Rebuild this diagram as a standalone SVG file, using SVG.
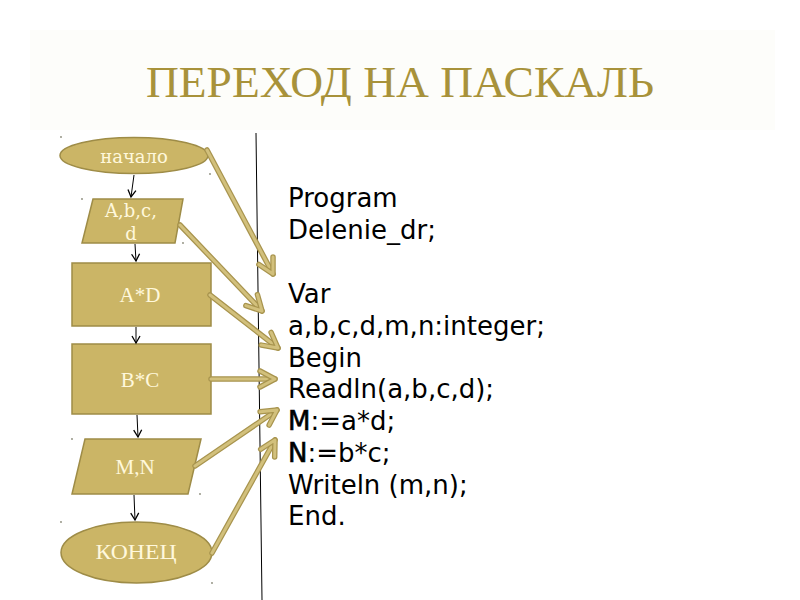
<svg xmlns="http://www.w3.org/2000/svg" width="800" height="600" viewBox="0 0 800 600">
<defs>
<style>
.shape{fill:#CBB566;stroke:#9E8C47;stroke-width:1.5}
.lbl{fill:#FFF8DC;font-family:"Liberation Serif","Times New Roman",serif;font-size:21px;text-anchor:middle}
.lbl2{fill:#FFF8DC;font-family:"DejaVu Serif",serif;font-size:18px;text-anchor:middle}
.flow{stroke:#000;stroke-width:1;fill:none;marker-end:url(#vhead)}
.goldOut{stroke:#A8944E;stroke-width:5.5;fill:none;stroke-linecap:round}
.goldIn{stroke:#D2C07C;stroke-width:3;fill:none;stroke-linecap:round;marker-end:url(#ghead)}
.code{font-family:"DejaVu Sans","Noto Sans",sans-serif;font-size:26px;fill:#000}
.semi{stroke:#000;stroke-width:0.6}
.dot{fill:#8a8a7a}
</style>
<marker id="vhead" markerUnits="userSpaceOnUse" markerWidth="12" markerHeight="12" refX="0" refY="0" orient="auto" overflow="visible">
<path d="M-7,-4 L0,0 L-7,4" fill="none" stroke="#000" stroke-width="1.3"/>
</marker>
<marker id="ghead" markerUnits="userSpaceOnUse" markerWidth="30" markerHeight="30" refX="0" refY="0" orient="auto" overflow="visible">
<path d="M-15,-8 L0,0 L-15,8" fill="none" stroke="#A8944E" stroke-width="5.5" stroke-linecap="round" stroke-linejoin="round"/>
<path d="M-15,-8 L0,0 L-15,8" fill="none" stroke="#D2C07C" stroke-width="3" stroke-linecap="round" stroke-linejoin="round"/>
</marker>
</defs>
<rect width="800" height="600" fill="#fff"/>
<rect x="30" y="30" width="745" height="100" fill="#FDFDFA"/>
<text x="400" y="97" font-family="Liberation Serif,'Times New Roman',serif" font-size="44" fill="#A8923A" text-anchor="middle" textLength="508" lengthAdjust="spacingAndGlyphs">ПЕРЕХОД НА ПАСКАЛЬ</text>

<line x1="256" y1="133" x2="262" y2="600" stroke="#000" stroke-width="1"/>

<g id="start">
<ellipse class="shape" cx="134" cy="155.5" rx="74" ry="18"/>
<text class="lbl2" x="134" y="163" font-size="19">начало</text>
</g>
<g id="input">
<polygon class="shape" points="93,199 183,199 175,243 82,243"/>
<text class="lbl2" x="131" y="217">A,b,c,</text>
<text class="lbl2" x="131" y="240">d</text>
</g>
<g id="ad">
<rect class="shape" x="72" y="263" width="139" height="63"/>
<text class="lbl" x="140" y="302">A*D</text>
</g>
<g id="bc">
<rect class="shape" x="72" y="344" width="139" height="70"/>
<text class="lbl" x="140" y="387">B*C</text>
</g>
<g id="output">
<polygon class="shape" points="85,439 201,439 188,494 72,494"/>
<text class="lbl" x="135" y="474">M,N</text>
</g>
<g id="end">
<ellipse class="shape" cx="136.5" cy="552.5" rx="75.5" ry="30.5"/>
<text class="lbl" x="136" y="559" textLength="81" lengthAdjust="spacingAndGlyphs">КОНЕЦ</text>
</g>

<g id="connectors">
<line class="flow" x1="134" y1="175" x2="131" y2="197"/>
<line class="flow" x1="135" y1="244" x2="136" y2="261"/>
<line class="flow" x1="136" y1="327" x2="136" y2="343"/>
<line class="flow" x1="137" y1="415" x2="138" y2="437"/>
<line class="flow" x1="134" y1="495" x2="135" y2="520"/>

<line class="goldOut" x1="207" y1="150" x2="273" y2="274"/>
<line class="goldIn" x1="207" y1="150" x2="273" y2="274"/>
<line class="goldOut" x1="180" y1="225" x2="262" y2="311"/>
<line class="goldIn" x1="180" y1="225" x2="262" y2="311"/>
<line class="goldOut" x1="210" y1="295" x2="278" y2="348"/>
<line class="goldIn" x1="210" y1="295" x2="278" y2="348"/>
<line class="goldOut" x1="211" y1="379" x2="275" y2="379"/>
<line class="goldIn" x1="211" y1="379" x2="275" y2="379"/>
<line class="goldOut" x1="195" y1="466" x2="277" y2="410"/>
<line class="goldIn" x1="195" y1="466" x2="277" y2="410"/>
<line class="goldOut" x1="212" y1="553" x2="275" y2="440"/>
<line class="goldIn" x1="212" y1="553" x2="275" y2="440"/>
</g>

<g id="code" class="code">
<text x="288" y="206.5">Program</text>
<text x="288" y="238.5">Delenie_dr;</text>
<text x="288" y="302.5">Var</text>
<text x="288" y="334.5">a,b,c,d,m,n:integer;</text>
<text x="288" y="366.5">Begin</text>
<text x="288" y="398">Readln(a,b,c,d);</text>
<text x="288" y="430"><tspan class="semi">M</tspan>:=a*d;</text>
<text x="288" y="462"><tspan class="semi">N</tspan>:=b*c;</text>
<text x="288" y="493.5">Writeln (m,n);</text>
<text x="288" y="525">End.</text>
</g>

<g id="dots">
<circle class="dot" cx="61" cy="137" r="0.9"/>
<circle class="dot" cx="210" cy="174" r="0.9"/>
<circle class="dot" cx="82" cy="199" r="0.9"/>
<circle class="dot" cx="183" cy="243" r="0.9"/>
<circle class="dot" cx="72" cy="439" r="0.9"/>
<circle class="dot" cx="200" cy="494" r="0.9"/>
<circle class="dot" cx="61" cy="522" r="0.9"/>
<circle class="dot" cx="212" cy="583" r="0.9"/>
</g>
</svg>
